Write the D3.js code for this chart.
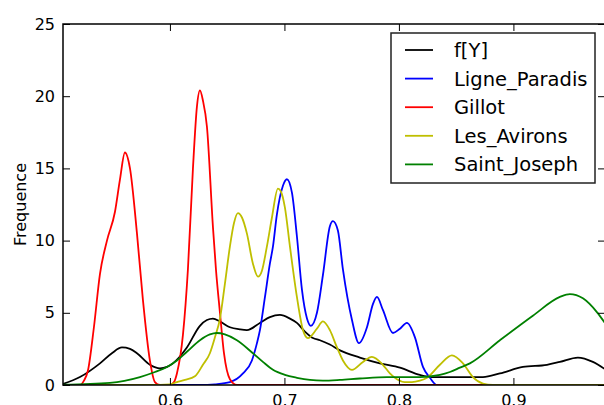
<!DOCTYPE html>
<html><head><meta charset="utf-8">
<script src="https://cdn.jsdelivr.net/npm/d3@7"></script>
<style>body{margin:0;background:#fff}svg{display:block;font-family:"DejaVu Sans",sans-serif}</style>
</head><body>
<svg id="chart" width="604" height="405"></svg>
<script>
const seriesNames = ["f[Y]", "Ligne_Paradis", "Gillot", "Les_Avirons", "Saint_Joseph"];
const xTicks = [0.6, 0.7, 0.8, 0.9];
const yTicks = [0, 5, 10, 15, 20, 25];
const yLabel = "Frequence";

const fY_x = [0.5066,0.5214,0.5389,0.5493,0.5581,0.5651,0.5712,0.5825,0.5913,0.5974,0.6026,0.6148,0.6262,0.6323,0.6376,0.6437,0.6524,0.6611,0.6672,0.6786,0.6873,0.6961,0.7048,0.7109,0.7179,0.7249,0.7310,0.7397,0.7485,0.7659,0.7834,0.8009,0.8183,0.8297,0.8445,0.8734,0.8882,0.9083,0.9293,0.9406,0.9563,0.9694,0.9799];
const fY_y = [0.07,0.55,1.5,2.2,2.6,2.5,2.2,1.4,1.15,1.25,1.5,2.6,4.1,4.5,4.6,4.4,4.0,3.85,3.8,4.3,4.7,4.85,4.6,4.3,3.7,3.25,3.1,2.8,2.4,1.9,1.5,1.2,0.7,0.55,0.55,0.55,0.8,1.25,1.4,1.6,1.9,1.6,1.1];

const paradis_x = [0.5066,0.6262,0.6393,0.6524,0.6638,0.6716,0.6760,0.6786,0.6830,0.6873,0.6900,0.6934,0.6987,0.7022,0.7066,0.7109,0.7153,0.7197,0.7231,0.7284,0.7336,0.7397,0.7424,0.7467,0.7511,0.7590,0.7651,0.7721,0.7773,0.7808,0.7860,0.7948,0.8009,0.8070,0.8140,0.8210,0.8271,0.8332,0.8445,0.9799];
const paradis_y = [0,0,0.05,0.2,0.8,1.7,2.9,3.8,6.1,8.4,9.6,11.8,13.8,14.25,13.3,10.3,6.6,4.6,4.1,5.0,7.6,11.0,11.35,10.7,8.0,4.5,2.9,4.0,5.6,6.1,5.2,3.6,3.9,4.3,3.3,1.25,0.5,0,0,0];

const gillot_x = [0.5066,0.5214,0.5249,0.5284,0.5336,0.5389,0.5450,0.5520,0.5563,0.5607,0.5651,0.5712,0.5764,0.5825,0.5869,0.5913,0.6000,0.6035,0.6061,0.6114,0.6157,0.6201,0.6236,0.6262,0.6288,0.6323,0.6376,0.6402,0.6437,0.6472,0.6524,0.6585,0.6699,0.9799];
const gillot_y = [0,0,0.3,1.0,4.0,7.7,10.0,12.0,14.2,16.1,15.0,10.5,5.9,1.7,0.2,0,0,0.2,0.8,3.5,8.0,15.0,19.3,20.4,19.7,17.9,10.9,8.0,5.0,2.2,0.4,0,0,0];

const avirons_x = [0.5066,0.5825,0.6000,0.6061,0.6131,0.6218,0.6288,0.6349,0.6393,0.6437,0.6480,0.6524,0.6559,0.6594,0.6629,0.6672,0.6725,0.6769,0.6803,0.6847,0.6891,0.6943,0.6969,0.7004,0.7048,0.7109,0.7162,0.7205,0.7284,0.7336,0.7397,0.7459,0.7511,0.7590,0.7686,0.7764,0.7860,0.7921,0.7983,0.8052,0.8114,0.8183,0.8245,0.8358,0.8463,0.8559,0.8646,0.8734,0.8821,0.8969,0.9799];
const avirons_y = [0,0,0.05,0.2,0.35,0.6,1.4,2.2,3.3,4.6,7.0,9.6,11.2,11.9,11.6,10.5,8.4,7.5,7.9,9.6,11.6,13.6,13.4,12.3,9.6,6.1,3.8,3.25,3.9,4.4,3.8,2.6,1.7,1.05,1.6,1.95,1.4,0.8,0.4,0.2,0.2,0.3,0.5,1.4,2.05,1.5,0.55,0.1,0,0,0];

const joseph_x = [0.5066,0.5476,0.5738,0.5869,0.5974,0.6061,0.6148,0.6262,0.6349,0.6410,0.6480,0.6585,0.6725,0.6812,0.6900,0.7004,0.7109,0.7223,0.7336,0.7485,0.7659,0.7895,0.8183,0.8358,0.8445,0.8533,0.8620,0.8882,0.9170,0.9406,0.9493,0.9607,0.9729,0.9799];
const joseph_y = [0.02,0.15,0.55,0.9,1.25,1.7,2.3,3.1,3.5,3.6,3.5,3.1,2.2,1.6,1.05,0.7,0.5,0.35,0.3,0.35,0.45,0.55,0.55,0.7,0.9,1.2,1.5,3.1,4.8,6.1,6.3,6.0,5.05,4.3];

const colors = ["#000000", "#0000ff", "#ff0000", "#bfbf00", "#008000"];
const seriesX = [fY_x, paradis_x, gillot_x, avirons_x, joseph_x];
const seriesY = [fY_y, paradis_y, gillot_y, avirons_y, joseph_y];

const svg = d3.select("#chart");
const L = 63, R = 605, T = 24, B = 385;
const x = d3.scaleLinear().domain([0.5066, 0.98]).range([L, R]);
const y = d3.scaleLinear().domain([0, 25]).range([B, T]);

svg.append("defs").append("clipPath").attr("id", "clip")
  .append("rect").attr("x", L).attr("y", T - 2).attr("width", R - L).attr("height", B - T + 2);

const line = d3.line().x(d => x(d[0])).y(d => y(d[1])).curve(d3.curveMonotoneX);
const g = svg.append("g").attr("clip-path", "url(#clip)");
seriesNames.forEach((n, i) => {
  g.append("path").datum(d3.zip(seriesX[i], seriesY[i]))
    .attr("d", line).attr("fill", "none").attr("stroke", colors[i])
    .attr("stroke-width", 1.8).attr("stroke-linejoin", "round");
});

// axes with inward ticks
const tl = 7;
const axB = svg.append("g").attr("transform", `translate(0,${B})`)
  .call(d3.axisBottom(x).tickValues(xTicks).tickFormat(d3.format(".1f")).tickSizeInner(-tl).tickSizeOuter(0).tickPadding(10));
const axT = svg.append("g").attr("transform", `translate(0,${T})`)
  .call(d3.axisTop(x).tickValues(xTicks).tickFormat("").tickSizeInner(-tl).tickSizeOuter(0));
const axL = svg.append("g").attr("transform", `translate(${L},0)`)
  .call(d3.axisLeft(y).tickValues(yTicks).tickFormat(d3.format("d")).tickSizeInner(-tl).tickSizeOuter(0).tickPadding(8));
const axR = svg.append("g").attr("transform", `translate(${R},0)`)
  .call(d3.axisRight(y).tickValues(yTicks).tickFormat("").tickSizeInner(-tl).tickSizeOuter(0));
[axB, axT, axL, axR].forEach(a => {
  a.select(".domain").remove();
  a.selectAll(".tick line").attr("stroke", "#000").attr("stroke-width", 1);
  a.selectAll("text").attr("font-size", 16).attr("fill", "#000").attr("font-family", "DejaVu Sans");
});

// frame
svg.append("rect").attr("x", L).attr("y", T).attr("width", R - L).attr("height", B - T)
  .attr("fill", "none").attr("stroke", "#000").attr("stroke-width", 1.5);

// y label
svg.append("text").attr("transform", `translate(26,${(T + B) / 2}) rotate(-90)`)
  .attr("text-anchor", "middle").attr("font-size", 16).text(yLabel);

// legend
const lg = svg.append("g");
lg.append("rect").attr("x", 391).attr("y", 33).attr("width", 204).attr("height", 150)
  .attr("fill", "#fff").attr("stroke", "#222").attr("stroke-width", 1.5);
seriesNames.forEach((n, i) => {
  const yy = 50 + i * 28.6;
  lg.append("line").attr("x1", 405).attr("x2", 433).attr("y1", yy).attr("y2", yy)
    .attr("stroke", colors[i]).attr("stroke-width", 1.8);
  lg.append("text").attr("x", 454).attr("y", yy).attr("dy", "0.36em")
    .attr("font-size", 19.5).attr("fill", "#000").text(n);
});
</script>
</body></html>
